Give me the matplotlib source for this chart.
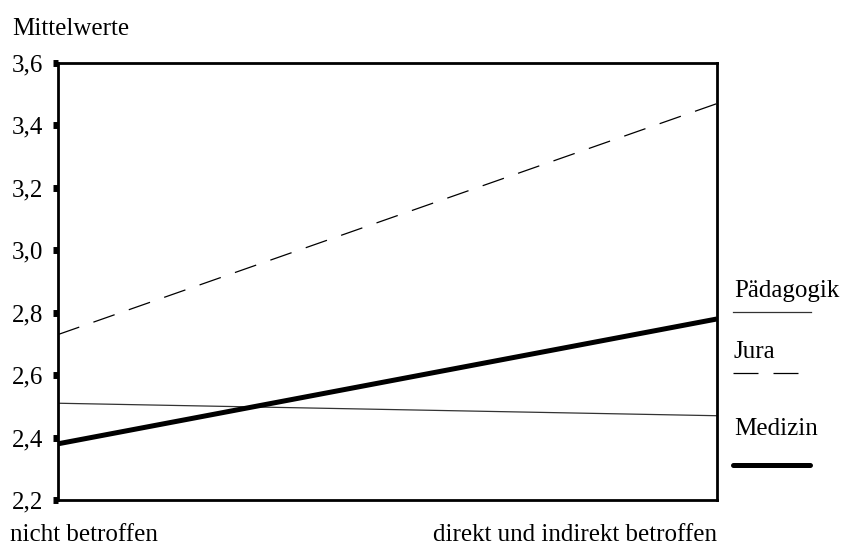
import matplotlib.pyplot as plt

# data
groups = ["nicht betroffen", "direkt und indirekt betroffen"]
paedagogik = [2.51, 2.47]
jura = [2.73, 3.47]
medizin = [2.38, 2.78]
yticks = [2.2, 2.4, 2.6, 2.8, 3.0, 3.2, 3.4, 3.6]

plt.rcParams['font.family'] = ['Liberation Serif', 'DejaVu Serif']
FS = 18

W, H = 844, 545
fig = plt.figure(figsize=(W/100, H/100), dpi=100)
ax = fig.add_axes([58/W, 1 - 500/H, (717-58)/W, (500-63)/H])

x = [0, 1]
ax.plot(x, paedagogik, color='#333333', lw=0.9)
ax.plot(x, jura, color='black', lw=0.9, dashes=(18, 12))
ax.plot(x, medizin, color='black', lw=3.6, solid_capstyle='butt')

ax.set_xlim(0, 1)
ax.set_ylim(2.2, 3.6)
ax.set_yticks(yticks)
ax.set_yticklabels([("%.1f" % v).replace('.', ',') for v in yticks], fontsize=FS)
ax.tick_params(axis='y', direction='out', length=3.6, width=5, pad=7)
ax.set_xticks([])
for s in ax.spines.values():
    s.set_linewidth(2)

fig.text(12/W, 1 - 35/H, "Mittelwerte", fontsize=FS, va='baseline', ha='left')
fig.text(10/W, 1 - 541/H, groups[0], fontsize=FS, va='baseline', ha='left')
fig.text(717/W, 1 - 541/H, groups[1], fontsize=FS, va='baseline', ha='right')

# legend drawn by hand on the right
names = ["Pädagogik", "Jura", "Medizin"]
styles = [dict(color='#333333', lw=0.9), dict(color='black', lw=0.9, dashes=(20, 12)),
          dict(color='black', lw=3.6, solid_capstyle='round')]
text_y = [297, 358, 435]
line_y = [312, 373, 465]
line_x1 = [811, 798, 810]
for n, st, ty, ly, x1 in zip(names, styles, text_y, line_y, line_x1):
    fig.text(734/W, 1 - ty/H, n, fontsize=FS, va='baseline', ha='left')
    fig.add_artist(plt.Line2D([733/W, x1/W], [1 - ly/H, 1 - ly/H], **st))

fig.savefig("out.png", dpi=100)
